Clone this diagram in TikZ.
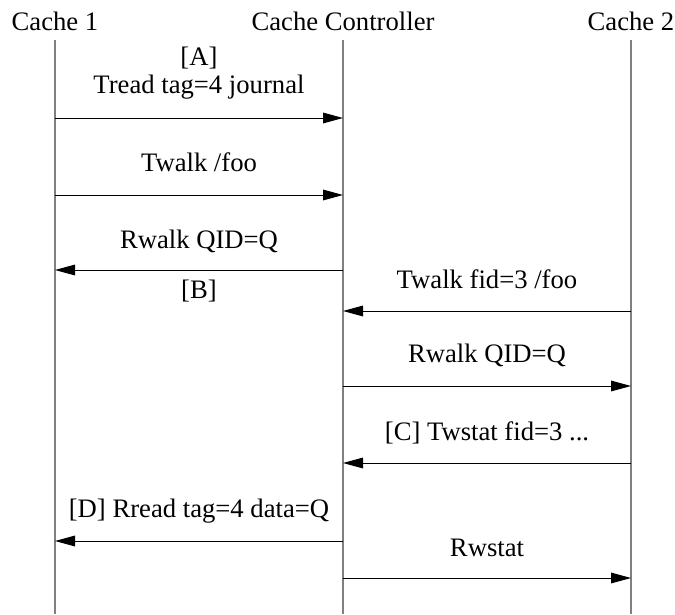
\documentclass[tikz,border=0pt]{standalone}
\usepackage{fontspec}
\setmainfont{Liberation Serif}
\usetikzlibrary{arrows.meta}

\begin{document}
\begin{tikzpicture}[x=0.75pt,y=0.75pt,yscale=-1,xscale=1,
  lifeline/.style={color={rgb, 255:red, 128; green, 128; blue, 128 },line width=0.9},
  msg/.style={line width=0.75,-{Triangle[length=15pt,width=8pt]}},
  txt/.style={font=\fontsize{20}{24}\selectfont,anchor=base,inner sep=0pt}]
%set diagram to 675 x 614
\path (0,0) rectangle (675,614);

% Participants
\node[txt] (c1) at (55,30) {Cache 1};
\node[txt] (cc) at (343,30) {Cache Controller};
\node[txt] (c2) at (631,30) {Cache 2};

% Lifelines
\coordinate (c1top) at (55,40);
\coordinate (cctop) at (343,40);
\coordinate (c2top) at (631,40);
\coordinate (c1bot) at (55,614);
\coordinate (ccbot) at (343,614);
\coordinate (c2bot) at (631,614);
\draw[lifeline] (c1top) -- (c1bot);
\draw[lifeline] (cctop) -- (ccbot);
\draw[lifeline] (c2top) -- (c2bot);

% Message points
\coordinate (c1m1) at (55,118);  \coordinate (ccm1) at (343,118);
\coordinate (c1m2) at (55,195);  \coordinate (ccm2) at (343,195);
\coordinate (c1m3) at (55,270);  \coordinate (ccm3) at (343,270);
\coordinate (ccm4) at (343,311); \coordinate (c2m4) at (631,311);
\coordinate (ccm5) at (343,386); \coordinate (c2m5) at (631,386);
\coordinate (ccm6) at (343,463); \coordinate (c2m6) at (631,463);
\coordinate (c1m7) at (55,541);  \coordinate (ccm7) at (343,541);
\coordinate (ccm8) at (343,578); \coordinate (c2m8) at (631,578);

% Messages
\draw[msg] (c1m1) -- (ccm1);
\draw[msg] (c1m2) -- (ccm2);
\draw[msg] (ccm3) -- (c1m3);
\draw[msg] (c2m4) -- (ccm4);
\draw[msg] (ccm5) -- (c2m5);
\draw[msg] (c2m6) -- (ccm6);
\draw[msg] (ccm7) -- (c1m7);
\draw[msg] (ccm8) -- (c2m8);

% Text Node
\node[txt] (ta) at (199,65) {[A]};
% Text Node
\node[txt] (t1) at (199,93) {Tread tag=4 journal};
% Text Node
\node[txt] (t2) at (199,171) {Twalk /foo};
% Text Node
\node[txt] (t3) at (199,248) {Rwalk QID=Q};
% Text Node
\node[txt] (tb) at (199,298) {[B]};
% Text Node
\node[txt] (t4) at (487,288) {Twalk fid=3 /foo};
% Text Node
\node[txt] (t5) at (487,362) {Rwalk QID=Q};
% Text Node
\node[txt] (t6) at (487,440) {[C] Twstat fid=3 ...};
% Text Node
\node[txt] (t7) at (199,517) {[D] Rread tag=4 data=Q};
% Text Node
\node[txt] (t8) at (487,556) {Rwstat};

\end{tikzpicture}
\end{document}
